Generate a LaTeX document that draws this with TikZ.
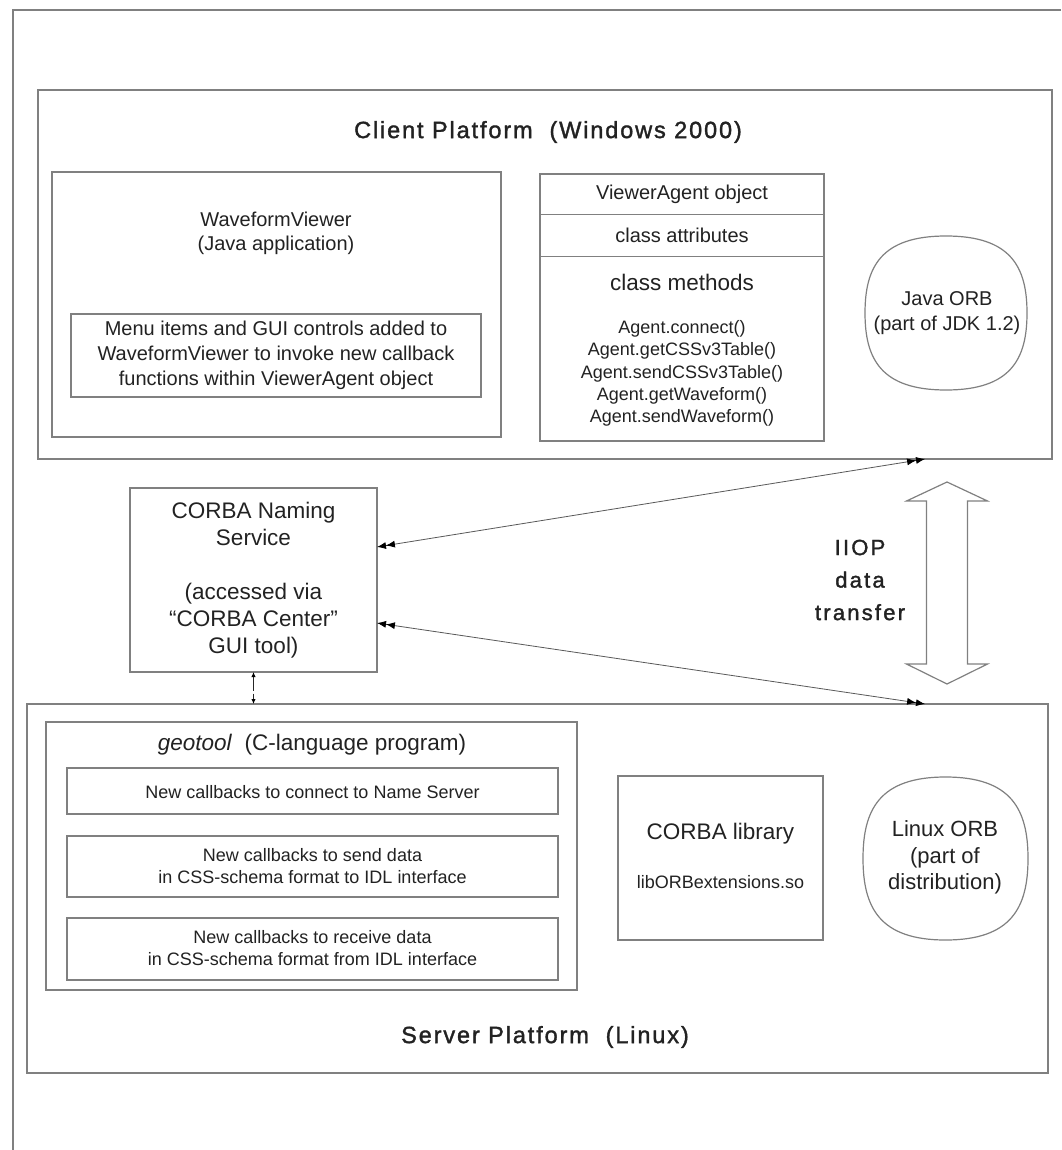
\documentclass[tikz,border=0pt]{standalone}
\usepackage{fontspec}
\setmainfont{Liberation Sans}
\newfontfamily\headfont[LetterSpace=8,FakeBold=1.5]{Liberation Sans}
\newfontfamily\iiopfont[LetterSpace=10,FakeBold=1.5]{Liberation Sans}
\usetikzlibrary{arrows.meta}
\definecolor{linegray}{HTML}{808080}
\definecolor{textcol}{HTML}{222222}
\newcommand\fs[2]{\fontsize{#1}{#2}\selectfont}
\tikzset{
  dtip/.tip={Latex[length=9pt,width=7pt,color=black] Latex[length=9pt,width=7pt,color=black]},
  stip/.tip={Latex[length=5pt,width=4.5pt,color=black]},
  box/.style={draw=linegray,line width=1.5pt,rectangle,inner sep=0pt,outer sep=0pt,anchor=north west},
  divline/.style={draw=linegray,line width=1.5pt},
  txt/.style={align=center,inner sep=0pt,text=textcol},
  orbline/.style={draw=linegray,line width=1.2pt},
  conn/.style={draw=black!65,line width=0.8pt,arrows={dtip-dtip}},
  dashconn/.style={draw=black!85,line width=1.5pt,dash pattern=on 14pt off 3pt,arrows={stip-stip}},
  hollow/.style={draw=linegray,line width=1.2pt,line join=miter},
  frameline/.style={draw=linegray,line width=1.5pt}
}
\newcommand\orbshape[4]{%
  \draw[orbline] ({#1},{#2-#4})
    .. controls ({#1+0.8*#3},{#2-#4}) and ({#1+#3},{#2-0.6*#4}) .. ({#1+#3},{#2})
    .. controls ({#1+#3},{#2+0.6*#4}) and ({#1+0.8*#3},{#2+#4}) .. ({#1},{#2+#4})
    .. controls ({#1-0.8*#3},{#2+#4}) and ({#1-#3},{#2+0.6*#4}) .. ({#1-#3},{#2})
    .. controls ({#1-#3},{#2-0.6*#4}) and ({#1-0.8*#3},{#2-#4}) .. cycle;}
\begin{document}
\begin{tikzpicture}[x=1pt,y=-1pt]
\useasboundingbox (0,0) rectangle (1061,1150);
\fill[white] (0,0) rectangle (1061,1150);
% outer frame
\draw[frameline] (1061,10) -- (13,10) -- (13,1150);

% ---------- client platform ----------
\node[box,minimum width=1014pt,minimum height=369pt] (client) at (38,90) {};
\node[txt,font=\headfont\fs{23.5}{28}] (clienttitle) at (548,132) {Client Platform\ \ (Windows 2000)};

\node[box,minimum width=449pt,minimum height=265pt] (wv) at (52,172) {};
\node[txt,font=\fs{20}{24}] (wvtext) at (276,233) {WaveformViewer\\(Java application)};
\node[box,minimum width=410pt,minimum height=83pt] (menu) at (71,314) {};
\node[txt,font=\fs{20}{25}] (menutext) at (276,355.5) {Menu items and GUI controls added to\\WaveformViewer to invoke new callback\\functions within ViewerAgent object};

\node[box,minimum width=284pt,minimum height=267pt] (va) at (540,174) {};
\draw[divline] (va.west |- 0,214.5) -- (va.east |- 0,214.5);
\draw[divline] (va.west |- 0,256.5) -- (va.east |- 0,256.5);
\node[txt,font=\fs{20}{24}] (vatitle) at (682,194) {ViewerAgent object};
\node[txt,font=\fs{20}{24}] (vaattr) at (682,235) {class attributes};
\node[txt,font=\fs{22.5}{26}] (vameth) at (682,282) {class methods};
\node[txt,font=\fs{18}{22.3}] (vamethods) at (682,373.5) {Agent.connect()\\Agent.getCSSv3Table()\\Agent.sendCSSv3Table()\\Agent.getWaveform()\\Agent.sendWaveform()};

\node[txt,font=\fs{20}{24.5}] (javaorb) at (947,313) {Java ORB\\(part of JDK 1.2)};
\orbshape{946}{313}{81}{77}

% ---------- naming service ----------
\node[box,minimum width=247pt,minimum height=184pt] (ns) at (130,488) {};
\node[txt,font=\fs{22.5}{27}] (nstext) at (253.5,580) {CORBA Naming\\Service\\[27pt](accessed via\\“CORBA Center”\\GUI tool)};

% ---------- server platform ----------
\node[box,minimum width=1021pt,minimum height=369pt] (server) at (27,704) {};
\node[txt,font=\headfont\fs{23.5}{28}] (servertitle) at (545,1037) {Server Platform\ \ (Linux)};

\node[box,minimum width=531pt,minimum height=268pt] (geo) at (46,722) {};
\node[txt,font=\fs{22.5}{27}] (geotitle) at (312,745) {\textit{geotool}\ \ (C-language program)};
\node[box,minimum width=491pt,minimum height=46pt] (cb1) at (67,768) {};
\node[txt,font=\fs{18}{22}] (cb1text) at (312.5,792) {New callbacks to connect to Name Server};
\node[box,minimum width=491pt,minimum height=61pt] (cb2) at (67,836) {};
\node[txt,font=\fs{18}{22}] (cb2text) at (312.5,866.5) {New callbacks to send data\\in CSS-schema format to IDL interface};
\node[box,minimum width=491pt,minimum height=62pt] (cb3) at (67,918) {};
\node[txt,font=\fs{18}{22}] (cb3text) at (312.5,948.5) {New callbacks to receive data\\in CSS-schema format from IDL interface};

\node[box,minimum width=205pt,minimum height=164pt] (lib) at (618,776) {};
\node[txt,font=\fs{22.5}{27}] (libtitle) at (720.5,834) {CORBA library};
\node[txt,font=\fs{18}{22}] (libname) at (720.5,882) {libORBextensions.so};

\node[txt,font=\fs{22}{26.5}] (linuxorb) at (945,857.5) {Linux ORB\\(part of\\distribution)};
\orbshape{945.5}{858.5}{82.5}{81.5}

% ---------- IIOP ----------
\node[txt,font=\iiopfont\fs{22}{32.5}] (iiop) at (860,580) {IIOP\\data\\transfer};
\draw[hollow] (947,482) -- (987.5,501) -- (967.5,501) -- (967.5,664) -- (987.5,664)
  -- (947,684) -- (906.5,664) -- (926.5,664) -- (926.5,501) -- (906.5,501) -- cycle;

% ---------- connectors ----------
\coordinate (nsup) at (ns.east |- 0,547);
\coordinate (nsdown) at (ns.east |- 0,623);
\coordinate (clientport) at (925,459);
\coordinate (serverport) at (925,704);
\draw[conn] (nsup) -- (clientport);
\draw[conn] (nsdown) -- (serverport);
\draw[dashconn] (ns.south) -- (ns.south |- server.north);
\end{tikzpicture}
\end{document}
